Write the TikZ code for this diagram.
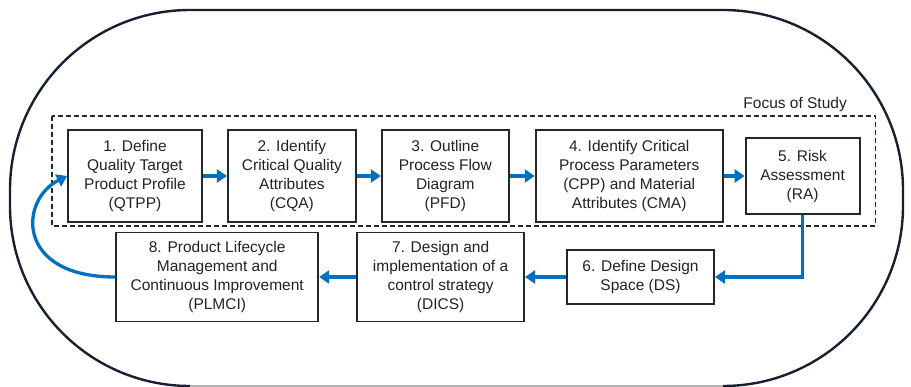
\documentclass[tikz,border=0pt]{standalone}
\usepackage{fontspec}
\setmainfont{Liberation Sans}
\usetikzlibrary{arrows.meta,positioning,calc}
\definecolor{flowblue}{RGB}{0,112,192}
\definecolor{rimnavy}{RGB}{22,32,48}
\definecolor{boxtext}{RGB}{34,34,34}

\begin{document}
\begin{tikzpicture}[x=1pt,y=-1pt,
  font=\fontsize{15.5}{19}\selectfont,text=boxtext,
  stage/.style={rectangle,draw=black!85,line width=1.9pt,align=center,inner sep=1pt},
  flow/.style={draw=flowblue,line width=3.3pt,-{Triangle[length=10pt,width=13pt]}}]
\useasboundingbox (0,0) rectangle (911,387);
% outer frame
\draw[rimnavy,line width=2.4pt,rounded corners=180pt] (190,386) -| (10,10) -| (903,386) -- (723,386);
\draw[gray!60,line width=2pt] (190,386) -- (723,386);
% top row (focus of study)
\node[stage,minimum width=134pt,minimum height=92pt] (qtpp) at (135,176) {1. Define\\Quality Target\\Product Profile\\(QTPP)};
\node[stage,minimum width=128pt,minimum height=92pt,right=24pt of qtpp] (cqa) {2. Identify\\Critical Quality\\Attributes\\(CQA)};
\node[stage,minimum width=127pt,minimum height=92pt,right=24pt of cqa] (pfd) {3. Outline\\Process Flow\\Diagram\\(PFD)};
\node[stage,minimum width=187pt,minimum height=92pt,right=25pt of pfd] (cpp) {4. Identify Critical\\Process Parameters\\(CPP) and Material\\Attributes (CMA)};
\node[stage,minimum width=114pt,minimum height=76pt,right=21pt of cpp] (ra) {5. Risk\\Assessment\\(RA)};
% bottom row
\node[stage,minimum width=147pt,minimum height=54pt] (ds) at (640.5,277) {6. Define Design\\Space (DS)};
\node[stage,minimum width=167pt,minimum height=89pt,left=41pt of ds] (dics) {7. Design and\\implementation of a\\control strategy\\(DICS)};
\node[stage,minimum width=202pt,minimum height=89pt,left=37pt of dics] (plmci) {8. Product Lifecycle\\Management and\\Continuous Improvement\\(PLMCI)};
% focus frame
\draw[black!85,line width=1.7pt,dash pattern=on 5pt off 3pt] ($(qtpp.north west)+(-15,-13)$) coordinate (fnw) rectangle ($(ra.east |- qtpp.south)+(15,3)$) coordinate (fse);
\node[anchor=base east,inner sep=0pt] (focus) at (847,108.5) {Focus of Study};
% flow
\draw[flow] (qtpp) -- (cqa);
\draw[flow] (cqa) -- (pfd);
\draw[flow] (pfd) -- (cpp);
\draw[flow] (cpp) -- (ra);
\draw[flow] (ra.south) |- (ds.east);
\draw[flow] (ds) -- (dics);
\draw[flow] (dics) -- (plmci);
\draw[flow] (plmci.west) .. controls +(-100,0) and +(-48,24) .. (qtpp.west);
\end{tikzpicture}
\end{document}
